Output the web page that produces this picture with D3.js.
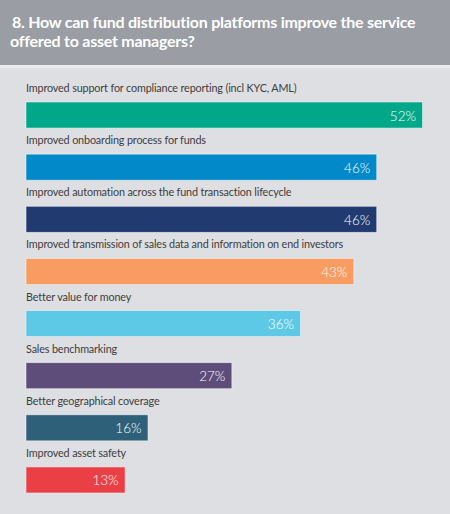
<!DOCTYPE html>
<html><head><meta charset="utf-8">
<script src="https://cdn.jsdelivr.net/npm/d3@7"></script>
<style>html,body{margin:0;padding:0;background:#dedfe2;}svg{display:block;}</style>
</head><body>
<script>
const titleLines = ["8. How can fund distribution platforms improve the service", "offered to asset managers?"];
const categories = [
  "Improved support for compliance reporting (incl KYC, AML)",
  "Improved onboarding process for funds",
  "Improved automation across the fund transaction lifecycle",
  "Improved transmission of sales data and information on end investors",
  "Better value for money",
  "Sales benchmarking",
  "Better geographical coverage",
  "Improved asset safety"
];
const values = [52, 46, 46, 43, 36, 27, 16, 13];
const colors = ["#00a88a", "#0289c9", "#213a70", "#f99c61", "#5ec9e6", "#5e4c7a", "#2e6179", "#e93f45"];

const W = 450, H = 514;
const svg = d3.select("body").append("svg").attr("width", W).attr("height", H);
svg.append("rect").attr("width", W).attr("height", H).attr("fill", "#dedfe2");
svg.append("rect").attr("width", W).attr("height", 65).attr("fill", "#9a9da4");
svg.append("rect").attr("y", 65).attr("width", W).attr("height", 3).attr("fill", "#e9eaec");

svg.selectAll("text.title").data(titleLines).join("text")
  .attr("class", "title")
  .attr("x", (d, i) => i === 0 ? 12 : 10)
  .attr("y", (d, i) => 28 + i * 19)
  .attr("fill", "#ffffff")
  .attr("font-family", "Lato")
  .attr("font-weight", 700)
  .attr("font-size", 16)
  .attr("letter-spacing", -0.25)
  .text(d => d);

const x = d3.scaleLinear().domain([0, 52]).range([26, 422.5]);
const y = d3.scaleBand().domain(categories).range([102, 493]).paddingInner(0.5).paddingOuter(0);

const g = svg.append("g");
const rows = g.selectAll("g.row").data(categories).join("g").attr("class", "row");

rows.append("rect")
  .attr("x", x(0))
  .attr("y", d => y(d))
  .attr("width", (d, i) => x(values[i]) - x(0))
  .attr("height", y.bandwidth())
  .attr("fill", (d, i) => colors[i])
  .attr("stroke", "#f2f3f4").attr("stroke-width", 0.8).attr("stroke-opacity", 0.7);

rows.append("text")
  .attr("x", x(0))
  .attr("y", d => y(d) - 10)
  .attr("fill", "#3d3d40")
  .attr("font-family", "Lato")
  .attr("font-size", 10.8)
  .attr("letter-spacing", -0.15)
  .text(d => d);

rows.append("text")
  .attr("x", (d, i) => x(values[i]) - 6.5)
  .attr("y", d => y(d) + 18.5)
  .attr("text-anchor", "end")
  .attr("fill", "#ffffff")
  .attr("font-family", "Lato")
  .attr("font-weight", 300)
  .attr("font-size", 13.5)
  .text((d, i) => values[i] + "%");
</script>
</body></html>
